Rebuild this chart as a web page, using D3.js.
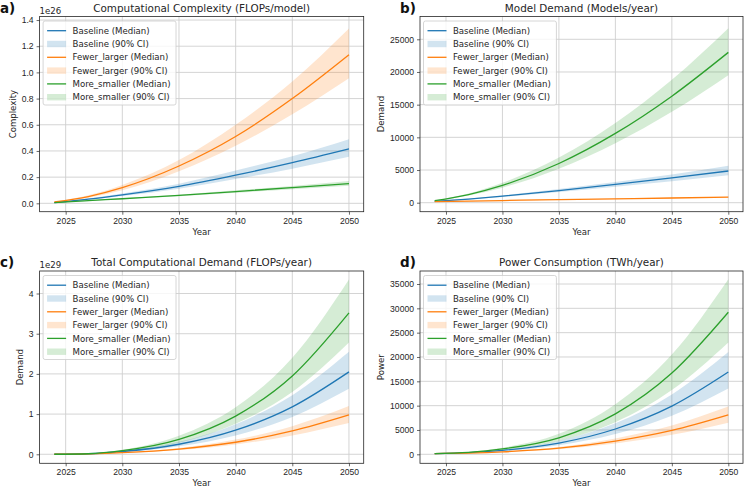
<!DOCTYPE html>
<html>
<head>
<meta charset="utf-8">
<script src="https://cdn.jsdelivr.net/npm/d3@7"></script>
<style>
  body { margin: 0; background: #fff; }
  svg { font-family: "DejaVu Sans", sans-serif; }
  .tick text { font-size: 8.6px; fill: #262626; }
  .tick line { stroke: #262626; stroke-width: 0.7; }
</style>
</head>
<body>
<svg id="chart" width="745" height="489"></svg>
<script>
// years the values were read at
var years = [2024, 2027, 2030, 2035, 2040, 2045, 2050];
var scenarios = ["Baseline", "Fewer_larger", "More_smaller"];
var colors = ["#1f77b4", "#ff7f0e", "#2ca02c"];
var xTicks = [2025, 2030, 2035, 2040, 2045, 2050];

// a) computational complexity, x 1e26 FLOPs/model
var complexityMedian = [
  [0.005, 0.032, 0.065, 0.13, 0.215, 0.31, 0.415],
  [0.01, 0.052, 0.12, 0.285, 0.51, 0.80, 1.135],
  [0.005, 0.02, 0.035, 0.06, 0.09, 0.12, 0.15]
];
var complexityLow = [
  [0.004, 0.028, 0.056, 0.112, 0.185, 0.265, 0.355],
  [0.008, 0.043, 0.10, 0.245, 0.44, 0.68, 0.955],
  [0.004, 0.018, 0.031, 0.054, 0.081, 0.108, 0.135]
];
var complexityHigh = [
  [0.006, 0.037, 0.075, 0.15, 0.25, 0.36, 0.49],
  [0.012, 0.061, 0.14, 0.33, 0.60, 0.93, 1.335],
  [0.006, 0.022, 0.039, 0.066, 0.099, 0.132, 0.17]
];
var complexityTicks = [0, 0.2, 0.4, 0.6, 0.8, 1.0, 1.2, 1.4];

// b) model demand, models/year
var modelsMedian = [
  [200, 560, 1000, 1850, 2800, 3800, 4850],
  [150, 240, 330, 480, 600, 720, 850],
  [300, 1250, 2650, 6000, 10600, 16300, 23000]
];
var modelsLow = [
  [180, 495, 880, 1620, 2450, 3300, 4200],
  [140, 225, 310, 455, 570, 685, 805],
  [260, 1090, 2300, 5200, 9100, 13900, 19500]
];
var modelsHigh = [
  [220, 630, 1120, 2080, 3150, 4300, 5650],
  [160, 255, 350, 505, 630, 755, 895],
  [340, 1410, 3050, 6900, 12200, 18800, 26700]
];
var modelsTicks = [0, 5000, 10000, 15000, 20000, 25000];

// c) total computational demand, x 1e29 FLOPs/year
var flopsMedian = [
  [0.001, 0.014, 0.07, 0.25, 0.60, 1.18, 2.05],
  [0.001, 0.011, 0.04, 0.13, 0.30, 0.58, 0.98],
  [0.001, 0.014, 0.09, 0.37, 0.95, 1.95, 3.52]
];
var flopsLow = [
  [0.001, 0.011, 0.056, 0.2, 0.47, 0.93, 1.63],
  [0.001, 0.009, 0.033, 0.107, 0.245, 0.47, 0.78],
  [0.001, 0.011, 0.07, 0.29, 0.76, 1.55, 2.78]
];
var flopsHigh = [
  [0.001, 0.017, 0.085, 0.31, 0.75, 1.47, 2.55],
  [0.001, 0.013, 0.048, 0.158, 0.365, 0.70, 1.2],
  [0.001, 0.017, 0.11, 0.46, 1.17, 2.4, 4.35]
];
var flopsTicks = [0, 1, 2, 3, 4];

// d) power consumption, TWh/year
var powerMedian = [
  [150, 330, 800, 2300, 5200, 9900, 16900],
  [150, 260, 500, 1250, 2700, 4900, 8100],
  [150, 400, 1100, 3400, 8300, 16700, 29200]
];
var powerLow = [
  [130, 280, 650, 1850, 4150, 7900, 13500],
  [130, 225, 420, 1030, 2200, 4000, 6500],
  [130, 330, 900, 2750, 6600, 13200, 23000]
];
var powerHigh = [
  [170, 385, 960, 2800, 6400, 12300, 21000],
  [170, 300, 590, 1500, 3250, 5900, 9800],
  [170, 480, 1340, 4200, 10300, 20500, 36000]
];
var powerTicks = [0, 5000, 10000, 15000, 20000, 25000, 30000, 35000];

var panels = [
  { tag: "a)", title: "Computational Complexity (FLOPs/model)", ylab: "Complexity", offset: "1e26",
    med: complexityMedian, lo: complexityLow, hi: complexityHigh, ticks: complexityTicks,
    ydom: [-0.064, 1.427], fmt: d3.format(".1f"),
    left: 39.6, right: 363.7, top: 16.5, bottom: 211.7 },
  { tag: "b)", title: "Model Demand (Models/year)", ylab: "Demand", offset: null,
    med: modelsMedian, lo: modelsLow, hi: modelsHigh, ticks: modelsTicks,
    ydom: [-1377, 28488], fmt: d3.format("d"),
    left: 420, right: 743, top: 16.5, bottom: 211.7 },
  { tag: "c)", title: "Total Computational Demand (FLOPs/year)", ylab: "Demand", offset: "1e29",
    med: flopsMedian, lo: flopsLow, hi: flopsHigh, ticks: flopsTicks,
    ydom: [-0.224, 4.56], fmt: d3.format("d"),
    left: 39.6, right: 363.7, top: 271, bottom: 463.3 },
  { tag: "d)", title: "Power Consumption (TWh/year)", ylab: "Power", offset: null,
    med: powerMedian, lo: powerLow, hi: powerHigh, ticks: powerTicks,
    ydom: [-1850, 37672], fmt: d3.format("d"),
    left: 420, right: 743, top: 271, bottom: 463.3 }
];

var svg = d3.select("#chart");

panels.forEach(function(p, pi) {
  var x = d3.scaleLinear().domain([2022.7, 2051.3]).range([p.left, p.right]);
  var y = d3.scaleLinear().domain(p.ydom).range([p.bottom, p.top]);
  var g = svg.append("g");

  // grid
  g.selectAll(".vgrid").data(xTicks).enter().append("line")
    .attr("x1", function(d) { return x(d); }).attr("x2", function(d) { return x(d); })
    .attr("y1", p.top).attr("y2", p.bottom)
    .attr("stroke", "#cfcfcf").attr("stroke-width", 0.9);
  g.selectAll(".hgrid").data(p.ticks).enter().append("line")
    .attr("x1", p.left).attr("x2", p.right)
    .attr("y1", function(d) { return y(d); }).attr("y2", function(d) { return y(d); })
    .attr("stroke", "#cfcfcf").attr("stroke-width", 0.9);

  var area = d3.area()
    .x(function(d) { return x(d.year); })
    .y0(function(d) { return y(d.lo); })
    .y1(function(d) { return y(d.hi); })
    .curve(d3.curveMonotoneX);
  var line = d3.line()
    .x(function(d) { return x(d.year); })
    .y(function(d) { return y(d.med); })
    .curve(d3.curveMonotoneX);

  var rows = scenarios.map(function(s, si) {
    return years.map(function(yr, k) {
      return { year: yr, med: p.med[si][k], lo: p.lo[si][k], hi: p.hi[si][k] };
    });
  });

  g.selectAll(".band").data(rows).enter().append("path")
    .attr("d", area)
    .attr("fill", function(d, i) { return colors[i]; })
    .attr("fill-opacity", 0.2);
  g.selectAll(".med").data(rows).enter().append("path")
    .attr("d", line)
    .attr("fill", "none")
    .attr("stroke", function(d, i) { return colors[i]; })
    .attr("stroke-width", 1.3);

  // box
  g.append("rect")
    .attr("x", p.left).attr("y", p.top)
    .attr("width", p.right - p.left).attr("height", p.bottom - p.top)
    .attr("fill", "none").attr("stroke", "#262626").attr("stroke-width", 0.8);

  var xAxis = g.append("g")
    .attr("transform", "translate(0," + p.bottom + ")")
    .call(d3.axisBottom(x).tickValues(xTicks).tickFormat(d3.format("d")).tickSize(3).tickPadding(3));
  xAxis.select(".domain").remove();

  var yAxis = g.append("g")
    .attr("transform", "translate(" + p.left + ",0)")
    .call(d3.axisLeft(y).tickValues(p.ticks).tickFormat(p.fmt).tickSize(3).tickPadding(3));
  yAxis.select(".domain").remove();
  yAxis.selectAll("text").attr("font-family", null).attr("font-size", null);
  xAxis.selectAll("text").attr("font-family", null).attr("font-size", null);

  var yw = yAxis.node().getBBox().width;

  g.append("text")
    .attr("transform", "translate(" + (p.left - yw - 6) + "," + ((p.top + p.bottom) / 2) + ") rotate(-90)")
    .attr("text-anchor", "middle")
    .attr("font-size", 8.6).attr("fill", "#262626")
    .text(p.ylab);

  g.append("text")
    .attr("x", (p.left + p.right) / 2).attr("y", p.bottom + 23)
    .attr("text-anchor", "middle")
    .attr("font-size", 8.6).attr("fill", "#262626")
    .text("Year");

  g.append("text")
    .attr("x", (p.left + p.right) / 2).attr("y", p.top - 5)
    .attr("text-anchor", "middle")
    .attr("font-size", 10.4).attr("fill", "#262626")
    .text(p.title);

  if (p.offset) {
    g.append("text")
      .attr("x", p.left).attr("y", p.top - 3)
      .attr("font-size", 8.6).attr("fill", "#262626")
      .text(p.offset);
  }

  g.append("text")
    .attr("x", pi % 2 == 0 ? 0 : 400).attr("y", p.top - 4)
    .attr("font-size", 13.5).attr("font-weight", "bold").attr("fill", "#111")
    .text(p.tag);

  // legend
  var lx = p.left + 3.5, ly = p.top + 4.5;
  var leg = g.append("g").attr("transform", "translate(" + lx + "," + ly + ")");
  var legBox = leg.append("rect")
    .attr("fill", "#fff").attr("fill-opacity", 0.8)
    .attr("stroke", "#cccccc").attr("stroke-width", 0.8).attr("rx", 2);
  var entries = [];
  scenarios.forEach(function(s, si) {
    entries.push({ name: s + " (Median)", kind: "line", c: colors[si] });
    entries.push({ name: s + " (90% CI)", kind: "patch", c: colors[si] });
  });
  var item = leg.selectAll(".item").data(entries).enter().append("g")
    .attr("transform", function(d, i) { return "translate(0," + (9.7 + i * 13.3) + ")"; });
  item.filter(function(d) { return d.kind == "line"; }).append("line")
    .attr("x1", 4).attr("x2", 23).attr("y1", 0).attr("y2", 0)
    .attr("stroke", function(d) { return d.c; }).attr("stroke-width", 1.3);
  item.filter(function(d) { return d.kind == "patch"; }).append("rect")
    .attr("x", 4).attr("y", -3.2).attr("width", 19).attr("height", 6.4)
    .attr("fill", function(d) { return d.c; }).attr("fill-opacity", 0.2);
  var labels = item.append("text")
    .attr("x", 29.4).attr("y", 3.1)
    .attr("font-size", 8.6).attr("fill", "#262626")
    .text(function(d) { return d.name; });
  var maxW = d3.max(labels.nodes(), function(n) { return n.getComputedTextLength(); });
  legBox.attr("x", 0).attr("y", 0).attr("width", 29.4 + maxW + 5.5).attr("height", 84);
});
</script>
</body>
</html>
